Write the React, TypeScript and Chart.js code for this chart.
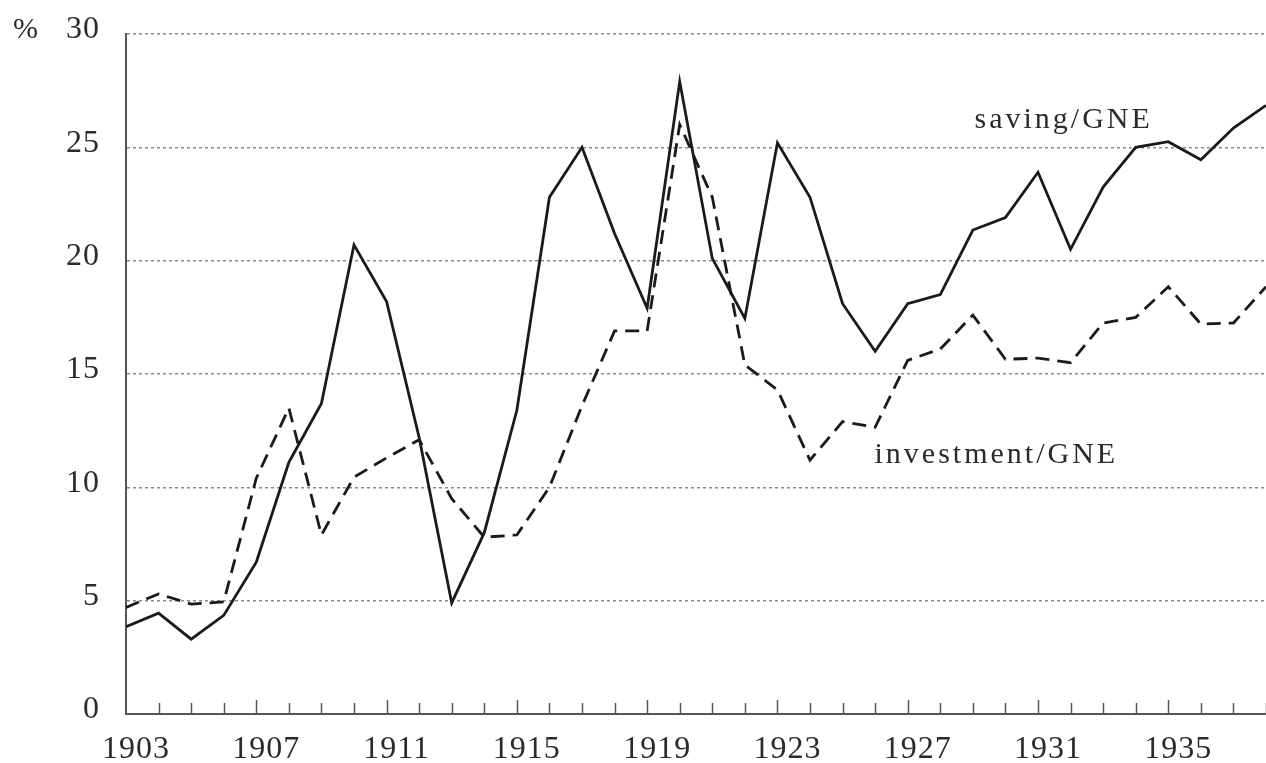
import React, { useEffect, useRef } from "react";
import { Chart, registerables } from "chart.js";

Chart.register(...registerables);

const years = [
  1903, 1904, 1905, 1906, 1907, 1908, 1909, 1910, 1911, 1912, 1913, 1914,
  1915, 1916, 1917, 1918, 1919, 1920, 1921, 1922, 1923, 1924, 1925, 1926,
  1927, 1928, 1929, 1930, 1931, 1932, 1933, 1934, 1935, 1936, 1937, 1938,
];

const savingGNE = [
  3.85, 4.45, 3.3, 4.35, 6.7, 11.1, 13.7, 20.7, 18.2, 12.2, 4.9, 8.0,
  13.4, 22.8, 25.0, 21.2, 17.9, 27.9, 20.1, 17.45, 25.2, 22.8, 18.1, 16.0,
  18.1, 18.5, 21.35, 21.9, 23.9, 20.5, 23.25, 25.0, 25.25, 24.45, 25.85, 26.85,
];

const investmentGNE = [
  4.7, 5.3, 4.85, 4.95, 10.4, 13.5, 7.9, 10.45, 11.3, 12.1, 9.5, 7.8,
  7.9, 10.0, 13.6, 16.9, 16.9, 26.0, 22.8, 15.4, 14.3, 11.2, 12.9, 12.65,
  15.6, 16.1, 17.6, 15.65, 15.7, 15.5, 17.25, 17.5, 18.85, 17.2, 17.25, 18.85,
];

const tickLabelYears = [1903, 1907, 1911, 1915, 1919, 1923, 1927, 1931, 1935];
const yTicks = [0, 5, 10, 15, 20, 25, 30];

const seriesLabels = ["saving/GNE", "investment/GNE"];
// label anchor in data space: [year, value] (left edge, baseline)
const savingLabelPos = [1929.05, 25.85];
const investmentLabelPos = [1925.98, 11.07];
const unitLabel = "%";

const FONT = "'Liberation Serif', 'Times New Roman', serif";
const TEXT_COLOR = "#2b2b2b";

function zeroPadding(scale: any) {
  scale.paddingTop = 0;
  scale.paddingBottom = 0;
  scale.paddingLeft = 0;
  scale.paddingRight = 0;
}

export default function App() {
  const ref = useRef<HTMLCanvasElement | null>(null);

  useEffect(() => {
    if (!ref.current) return;

    const spacingPlugin = {
      id: "spacing",
      beforeUpdate(chart: any) {
        chart.ctx.letterSpacing = "1px";
      },
      beforeDraw(chart: any) {
        chart.ctx.letterSpacing = "1px";
      },
    };

    const decorPlugin = {
      id: "decor",
      afterDraw(chart: any) {
        const ctx = chart.ctx;
        const xs = chart.scales.x;
        const ys = chart.scales.y;
        const base = ys.getPixelForValue(0);
        ctx.save();
        // inward tick marks
        ctx.strokeStyle = "#555";
        ctx.lineWidth = 1.5;
        ctx.setLineDash([]);
        for (const yr of years) {
          if (yr === years[0]) continue;
          const px = Math.round(xs.getPixelForValue(yr)) + 0.5;
          const len = tickLabelYears.includes(yr) ? 14 : 11;
          ctx.beginPath();
          ctx.moveTo(px, base);
          ctx.lineTo(px, base - len);
          ctx.stroke();
        }
        // series labels
        ctx.fillStyle = TEXT_COLOR;
        ctx.font = `30px ${FONT}`;
        ctx.letterSpacing = "3px";
        ctx.textAlign = "left";
        ctx.textBaseline = "alphabetic";
        ctx.fillText(
          seriesLabels[0],
          xs.getPixelForValue(savingLabelPos[0]),
          ys.getPixelForValue(savingLabelPos[1])
        );
        ctx.fillText(
          seriesLabels[1],
          xs.getPixelForValue(investmentLabelPos[0]),
          ys.getPixelForValue(investmentLabelPos[1])
        );
        // unit label
        ctx.letterSpacing = "0px";
        ctx.textBaseline = "middle";
        ctx.fillText(unitLabel, 13, ys.getPixelForValue(30) - 4);
        ctx.restore();
      },
    };

    const chart = new Chart(ref.current, {
      type: "line",
      data: {
        datasets: [
          {
            label: seriesLabels[0],
            data: years.map((y, i) => ({ x: y, y: savingGNE[i] })),
            borderColor: "#1a1a1a",
            borderWidth: 2.8,
            pointRadius: 0,
            tension: 0,
            fill: false,
          },
          {
            label: seriesLabels[1],
            data: years.map((y, i) => ({ x: y, y: investmentGNE[i] })),
            borderColor: "#1a1a1a",
            borderWidth: 2.8,
            borderDash: [14, 8],
            pointRadius: 0,
            tension: 0,
            fill: false,
          },
        ],
      },
      options: {
        responsive: false,
        animation: false,
        layout: { padding: { top: 34, right: 0, left: 0, bottom: 0 } },
        plugins: {
          legend: { display: false },
          tooltip: { enabled: false },
          title: { display: false },
        },
        scales: {
          x: {
            type: "linear",
            min: years[0],
            max: years[years.length - 1],
            afterFit(scale: any) {
              scale.height = 49;
              zeroPadding(scale);
            },
            afterBuildTicks(scale: any) {
              scale.ticks = years.map((v) => ({ value: v }));
            },
            ticks: {
              autoSkip: false,
              maxRotation: 0,
              minRotation: 0,
              labelOffset: 10,
              padding: 16,
              color: TEXT_COLOR,
              font: { family: FONT, size: 32 },
              callback: (v: any) =>
                tickLabelYears.includes(Number(v)) ? String(v) : "",
            },
            grid: { display: false, drawTicks: false },
            border: { display: true, color: "#555", width: 2 },
          },
          y: {
            min: 0,
            max: 30,
            afterFit(scale: any) {
              scale.width = 126;
              zeroPadding(scale);
            },
            afterBuildTicks(scale: any) {
              scale.ticks = yTicks.map((v) => ({ value: v }));
            },
            ticks: {
              padding: 26,
              labelOffset: -4,
              color: TEXT_COLOR,
              font: { family: FONT, size: 32 },
            },
            grid: {
              drawTicks: false,
              lineWidth: 1.5,
              color: (c: any) =>
                c.tick && c.tick.value === 0 ? "rgba(0,0,0,0)" : "#8a8a8a",
            },
            border: { display: true, color: "#555", width: 2, dash: [3, 3] },
          },
        },
      },
      plugins: [spacingPlugin, decorPlugin],
    });

    return () => chart.destroy();
  }, []);

  return (
    <div
      style={{
        position: "fixed",
        left: 0,
        top: 0,
        width: 1266,
        height: 763,
        background: "#fff",
      }}
    >
      <canvas ref={ref} width={1266} height={763} />
    </div>
  );
}
